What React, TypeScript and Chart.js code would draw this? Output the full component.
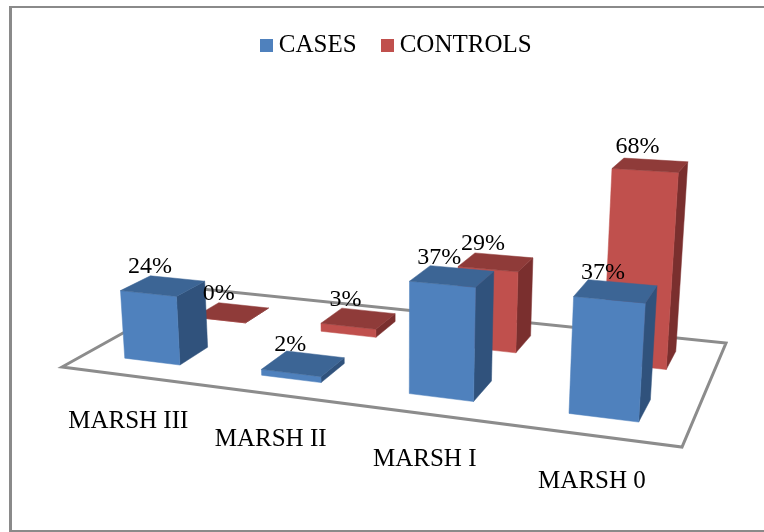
import React, { useEffect, useRef } from "react";
import { Chart, registerables } from "chart.js";

Chart.register(...registerables);

const categories = ["MARSH III", "MARSH II", "MARSH I", "MARSH 0"];
const casesValues = [24, 2, 37, 37];
const controlsValues = [0, 3, 29, 68];

const SERIF = '"Liberation Serif", "Times New Roman", serif';
const FACES = [
  { front: "#4F81BD", top: "#3C6595", side: "#30527C" },
  { front: "#C0504D", top: "#8F3B39", side: "#7A2F2E" },
];

// Floor plane in the picture: front-left, front-right, back-right, back-left.
const [A, B, C, D] = [
  [62, 367],
  [682, 447],
  [726, 343],
  [202, 289],
];
const VANISH = { x: 400, y: 4700 };
const DEPTH_HALF = 0.1;
const LEGEND_SHIFT = 17;

function makeProjector() {
  const dx1 = B[0] - C[0], dx2 = D[0] - C[0], sx = A[0] - B[0] + C[0] - D[0];
  const dy1 = B[1] - C[1], dy2 = D[1] - C[1], sy = A[1] - B[1] + C[1] - D[1];
  const det = dx1 * dy2 - dx2 * dy1;
  const g = (sx * dy2 - dx2 * sy) / det;
  const h = (dx1 * sy - sx * dy1) / det;
  const a = B[0] - A[0] + g * B[0], b = D[0] - A[0] + h * D[0];
  const d = B[1] - A[1] + g * B[1], e = D[1] - A[1] + h * D[1];
  return (u: number, v: number) => {
    const w = g * u + h * v + 1;
    return { x: (a * u + b * v + A[0]) / w, y: (d * u + e * v + A[1]) / w, w };
  };
}
const project = makeProjector();

type P = { x: number; y: number; w: number };
const lift = (p: P, units: number) => {
  const t = units / p.w;
  return { x: p.x + ((p.x - VANISH.x) / (VANISH.y - p.y)) * t, y: p.y - t };
};

function poly(ctx: CanvasRenderingContext2D, pts: { x: number; y: number }[], fill: string) {
  ctx.beginPath();
  pts.forEach((p, i) => (i ? ctx.lineTo(p.x, p.y) : ctx.moveTo(p.x, p.y)));
  ctx.closePath();
  ctx.fillStyle = fill;
  ctx.strokeStyle = fill;
  ctx.lineWidth = 0.5;
  ctx.fill();
  ctx.stroke();
}

function swatch(color: string) {
  const c = document.createElement("canvas");
  c.width = 13;
  c.height = 13;
  const x = c.getContext("2d")!;
  x.fillStyle = color;
  x.fillRect(0, 0, 13, 13);
  return c;
}

const scene3d = {
  id: "scene3d",
  afterLayout(chart: any) {
    chart.legend.left += LEGEND_SHIFT;
    chart.legend.right += LEGEND_SHIFT;
  },
  beforeDraw(chart: any) {
    const ctx = chart.ctx;
    ctx.save();
    ctx.fillStyle = "#FFFFFF";
    ctx.fillRect(0, 0, chart.width, chart.height);
    ctx.fillStyle = "#8A8A8A";
    ctx.fillRect(9, 6, chart.width - 9, 2);
    ctx.fillRect(9, 6, 3, chart.height - 6);
    ctx.fillRect(9, 530, chart.width - 9, 2);
    ctx.restore();
  },
  beforeDatasetsDraw(chart: any) {
    const ctx = chart.ctx;
    const area = chart.chartArea;
    const toU = (px: number) => (px - area.left) / area.width;
    const labels: { text: string; x: number; y: number }[] = [];

    ctx.save();
    ctx.beginPath();
    [project(0, 0), project(1, 0), project(1, 1), project(0, 1)].forEach((p, i) =>
      i ? ctx.lineTo(p.x, p.y) : ctx.moveTo(p.x, p.y)
    );
    ctx.closePath();
    ctx.strokeStyle = "#8C8C8C";
    ctx.lineWidth = 3;
    ctx.lineJoin = "miter";
    ctx.stroke();

    [1, 0].forEach((ds) => {
      const meta = chart.getDatasetMeta(ds);
      const faces = FACES[ds];
      const vc = (ds + 0.5) / chart.data.datasets.length;
      meta.data.forEach((el: any, j: number) => {
        const uc = toU(el.x);
        const uh = el.width / 2 / area.width;
        const units = el.base - el.y;
        const fl = project(uc - uh, vc - DEPTH_HALF);
        const fr = project(uc + uh, vc - DEPTH_HALF);
        const br = project(uc + uh, vc + DEPTH_HALF);
        const bl = project(uc - uh, vc + DEPTH_HALF);
        const tfl = lift(fl, units), tfr = lift(fr, units), tbr = lift(br, units), tbl = lift(bl, units);
        poly(ctx, [fr, br, tbr, tfr], faces.side);
        poly(ctx, [fl, fr, tfr, tfl], faces.front);
        poly(ctx, [tfl, tfr, tbr, tbl], faces.top);
        labels.push({
          text: chart.data.datasets[ds].data[j] + "%",
          x: (tfl.x + tfr.x + tbr.x + tbl.x) / 4 - 13,
          y: (tfl.y + tfr.y + tbr.y + tbl.y) / 4 - 19,
        });
      });
    });

    ctx.fillStyle = "#000000";
    ctx.textAlign = "center";
    ctx.textBaseline = "middle";
    ctx.font = `24px ${SERIF}`;
    labels.forEach((l) => ctx.fillText(l.text, l.x, l.y));

    ctx.font = `25px ${SERIF}`;
    const xScale = chart.scales.x;
    chart.data.labels.forEach((text: string, i: number) => {
      const p = project(toU(xScale.getPixelForValue(i)), 0);
      ctx.fillText(text, p.x - 1, p.y + 45.5);
    });
    ctx.restore();
    return false;
  },
};

export default function App() {
  const ref = useRef<HTMLCanvasElement | null>(null);
  useEffect(() => {
    const chart = new Chart(ref.current!, {
      type: "bar",
      data: {
        labels: categories,
        datasets: [
          { label: "CASES", data: casesValues, backgroundColor: FACES[0].front },
          { label: "CONTROLS", data: controlsValues, backgroundColor: FACES[1].front },
        ],
      },
      options: {
        responsive: false,
        animation: false,
        events: [],
        layout: { padding: { top: 2 } },
        datasets: { bar: { categoryPercentage: 1, barPercentage: 0.412 } },
        scales: {
          x: { display: false, stacked: true },
          y: { display: false, min: 0, max: 162 },
        },
        plugins: {
          tooltip: { enabled: false },
          legend: {
            position: "top",
            labels: {
              color: "#000000",
              font: { family: SERIF, size: 25 },
              padding: 30.5,
              usePointStyle: true,
              boxWidth: 0.01,
              boxHeight: 13,
              generateLabels: (c: any) =>
                Chart.defaults.plugins.legend.labels
                  .generateLabels(c)
                  .map((item: any) => ({ ...item, pointStyle: swatch(item.fillStyle) })),
            },
          },
        },
      },
      plugins: [scene3d],
    } as any);
    return () => chart.destroy();
  }, []);
  return (
    <canvas
      ref={ref}
      width={764}
      height={532}
      style={{ position: "fixed", left: 0, top: 0, display: "block" }}
    />
  );
}
